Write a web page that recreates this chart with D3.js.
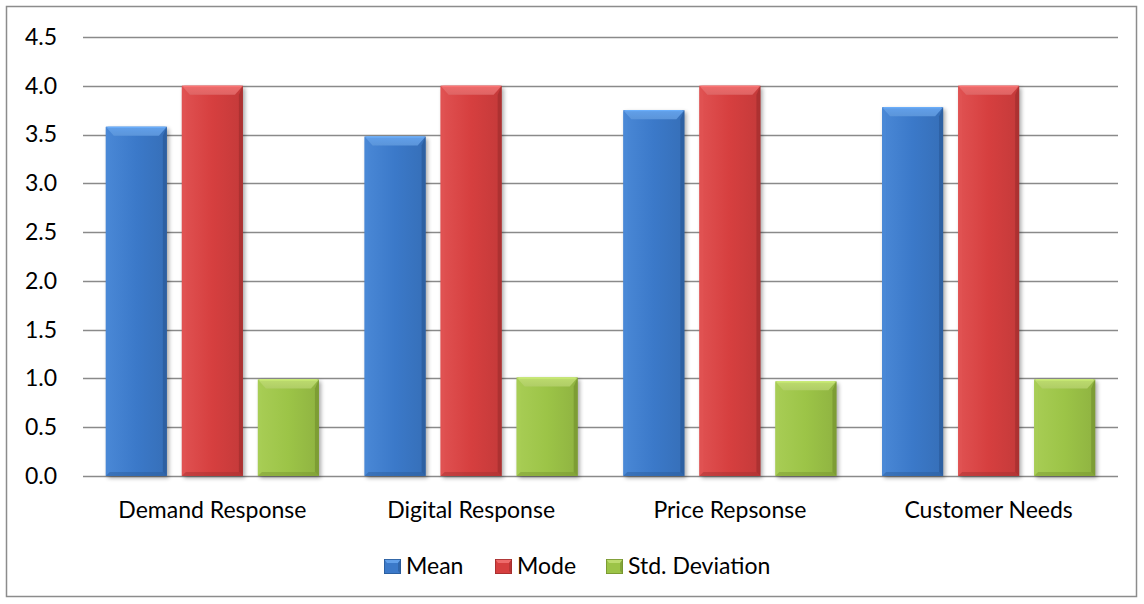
<!DOCTYPE html>
<html>
<head>
<meta charset="utf-8">
<script src="https://cdn.jsdelivr.net/npm/d3@7"></script>
<style>
  html, body { margin: 0; padding: 0; background: #fff; }
  svg { display: block; }
  text { font-family: "Lato", "Open Sans", sans-serif; fill: #000; }
</style>
</head>
<body>
<svg id="chart" width="1144" height="604"></svg>
<script>
// Survey summary: mean, mode and standard deviation per response dimension
const categories = ["Demand Response", "Digital Response", "Price Repsonse", "Customer Needs"];
const seriesNames = ["Mean", "Mode", "Std. Deviation"];
const meanValues = [3.58, 3.48, 3.75, 3.78];
const modeValues = [4.0, 4.0, 4.0, 4.0];
const stdDevValues = [0.99, 1.01, 0.97, 0.99];
const yTickValues = [0, 0.5, 1.0, 1.5, 2.0, 2.5, 3.0, 3.5, 4.0, 4.5];

const seriesValues = [meanValues, modeValues, stdDevValues];
const palette = [
  { base: "#3b79c9", light: "#62a0ea", dark: "#2a5a98", side: "#4a88d6" },
  { base: "#d63f3f", light: "#ee6b6b", dark: "#a12e2e", side: "#e05252" },
  { base: "#9cc447", light: "#bddc6e", dark: "#75932f", side: "#a8cd55" }
];

const svg = d3.select("#chart");
const W = 1144, H = 604;
const plot = { left: 83, right: 1118, top: 37, bottom: 476 };
const FONT = 23;

// Outer chart frame
svg.append("rect")
  .attr("x", 6.5).attr("y", 6.5)
  .attr("width", W - 14).attr("height", H - 14)
  .attr("fill", "#fff").attr("stroke", "#8c8c8c").attr("stroke-width", 1.5);

const defs = svg.append("defs");
const shadow = defs.append("filter").attr("id", "barShadow")
  .attr("x", "-20%").attr("y", "-10%").attr("width", "150%").attr("height", "130%");
shadow.append("feGaussianBlur").attr("in", "SourceAlpha").attr("stdDeviation", 2.2);
shadow.append("feOffset").attr("dx", 2).attr("dy", 2).attr("result", "off");
shadow.append("feComponentTransfer").append("feFuncA").attr("type", "linear").attr("slope", 0.35);

palette.forEach((c, i) => {
  const g = defs.append("linearGradient").attr("id", "face" + i)
    .attr("x1", "0").attr("x2", "1").attr("y1", "0").attr("y2", "0");
  g.append("stop").attr("offset", "0").attr("stop-color", c.side);
  g.append("stop").attr("offset", "0.5").attr("stop-color", c.base);
  g.append("stop").attr("offset", "1").attr("stop-color", d3.color(c.base).darker(0.25));
  const t = defs.append("linearGradient").attr("id", "top" + i)
    .attr("x1", "0").attr("x2", "0").attr("y1", "0").attr("y2", "1");
  t.append("stop").attr("offset", "0").attr("stop-color", c.light);
  t.append("stop").attr("offset", "1").attr("stop-color", d3.color(c.light).darker(0.2));
});

const y = d3.scaleLinear().domain([0, 4.5]).range([plot.bottom, plot.top]);
const x0 = d3.scaleBand().domain(categories).range([plot.left, plot.right]).padding(0);
const x1 = d3.scaleBand().domain(seriesNames).range([0, x0.bandwidth()])
  .paddingInner(0.197).paddingOuter(0.3);

// Horizontal gridlines
svg.append("g").selectAll("line").data(yTickValues).join("line")
  .attr("x1", plot.left).attr("x2", plot.right)
  .attr("y1", d => Math.round(y(d)) + 0.5).attr("y2", d => Math.round(y(d)) + 0.5)
  .attr("stroke", "#8a8a8a").attr("stroke-width", 1.5);

// Y axis labels
const yAxis = d3.axisLeft(y).tickValues(yTickValues).tickFormat(d3.format(".1f")).tickSize(0).tickPadding(0);
const yG = svg.append("g").attr("transform", `translate(57,0)`).call(yAxis);
yG.select(".domain").remove();
yG.selectAll("text").attr("font-size", FONT).attr("font-family", "Lato, 'Open Sans', sans-serif").attr("fill", "#000");

// Beveled bar shape
function drawBar(g, bx, by, bw, bh, i) {
  const c = palette[i];
  const bev = Math.min(9, bh / 2);
  const side = 4;
  g.append("rect").attr("x", bx).attr("y", by).attr("width", bw).attr("height", bh)
    .attr("fill", c.base).attr("filter", "url(#barShadow)");
  g.append("rect").attr("x", bx).attr("y", by).attr("width", bw).attr("height", bh)
    .attr("fill", `url(#face${i})`);
  // left and right bevel strips
  g.append("polygon").attr("points", [
    [bx, by], [bx + side, by + bev], [bx + side, by + bh - side], [bx, by + bh]
  ].join(" ")).attr("fill", c.side).attr("opacity", 0.8);
  g.append("polygon").attr("points", [
    [bx + bw, by], [bx + bw - side, by + bev], [bx + bw - side, by + bh - side], [bx + bw, by + bh]
  ].join(" ")).attr("fill", c.dark).attr("opacity", 0.7);
  // bottom strip
  g.append("polygon").attr("points", [
    [bx, by + bh], [bx + side, by + bh - side], [bx + bw - side, by + bh - side], [bx + bw, by + bh]
  ].join(" ")).attr("fill", c.dark).attr("opacity", 0.45);
  // top bevel
  g.append("polygon").attr("points", [
    [bx, by], [bx + bw, by], [bx + bw - side - 4, by + bev], [bx + side + 4, by + bev]
  ].join(" ")).attr("fill", `url(#top${i})`);
  g.append("line").attr("x1", bx + 2).attr("x2", bx + bw - 2).attr("y1", by + 0.5).attr("y2", by + 0.5)
    .attr("stroke", d3.color(c.light).brighter(0.3)).attr("stroke-width", 1);
}

const barsG = svg.append("g");
categories.forEach((cat, ci) => {
  seriesNames.forEach((s, si) => {
    const v = seriesValues[si][ci];
    const bx = x0(cat) + x1(s);
    const by = y(v);
    drawBar(barsG, bx, by, x1.bandwidth(), y(0) - by, si);
  });
});

// Category labels
svg.append("g").selectAll("text").data(categories).join("text")
  .attr("x", d => x0(d) + x0.bandwidth() / 2)
  .attr("y", 518)
  .attr("text-anchor", "middle")
  .attr("font-size", FONT)
  .text(d => d);

// Legend
const legendItems = [
  { name: "Mean", x: 384 },
  { name: "Mode", x: 495 },
  { name: "Std. Deviation", x: 606 }
];
const lg = svg.append("g");
legendItems.forEach((it, i) => {
  const c = palette[i];
  const sx = it.x, sy = 559, sw = 17, sh = 15;
  lg.append("rect").attr("x", sx).attr("y", sy).attr("width", sw).attr("height", sh).attr("fill", c.base);
  lg.append("polygon").attr("points", [[sx, sy], [sx + sw, sy], [sx + sw - 3, sy + 4], [sx + 3, sy + 4]].join(" "))
    .attr("fill", c.light);
  lg.append("polygon").attr("points", [[sx + sw, sy], [sx + sw, sy + sh], [sx + sw - 3, sy + sh - 3], [sx + sw - 3, sy + 4]].join(" "))
    .attr("fill", c.dark).attr("opacity", 0.6);
  lg.append("rect").attr("x", sx + 0.4).attr("y", sy + 0.4).attr("width", sw - 0.8).attr("height", sh - 0.8)
    .attr("fill", "none").attr("stroke", c.dark).attr("stroke-width", 0.8);
  lg.append("text").attr("x", sx + sw + 5).attr("y", 574).attr("font-size", FONT).text(it.name);
});
</script>
</body>
</html>
